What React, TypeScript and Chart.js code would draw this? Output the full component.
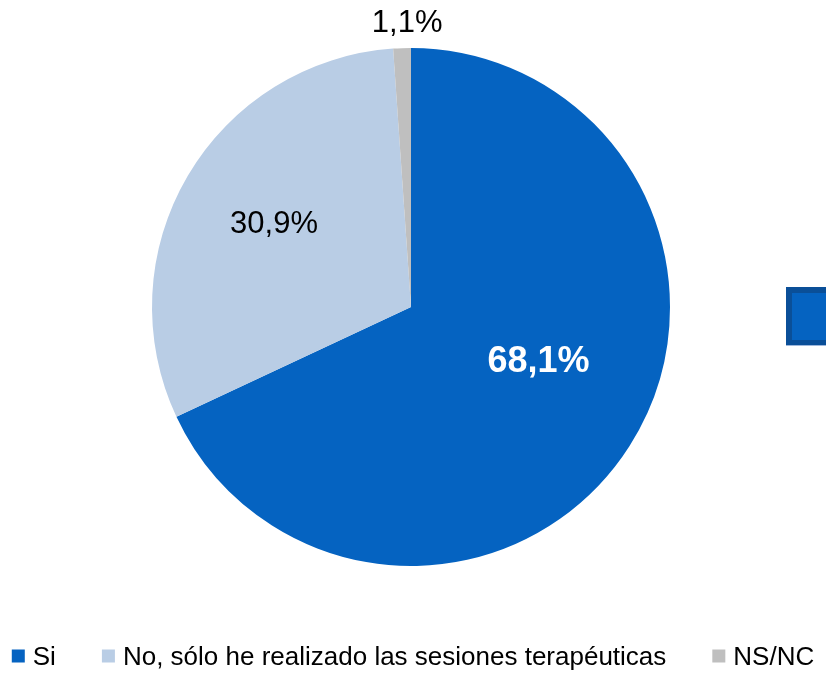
import React, { useEffect, useRef } from "react";
import { Chart, registerables } from "chart.js";

Chart.register(...registerables);

const categories = ["Si", "No, sólo he realizado las sesiones terapéuticas", "NS/NC"];
const values = [68.1, 30.9, 1.1];
const valueLabels = ["68,1%", "30,9%", "1,1%"];
const colors = ["#0563C1", "#B9CDE5", "#BFBFBF"];
const labelColors = ["#FFFFFF", "#000000", "#000000"];
const labelBold = [true, false, false];
const labelSizes = [36, 31, 31];
const labelRadius = [0.532, 0.622, 1.104];
const labelAngleShift = [-10.2, 1.3, 1.2];

const FONT = '"Liberation Sans", Arial, Helvetica, sans-serif';

const labelPlugin = {
  id: "sliceLabels",
  afterDatasetsDraw(chart: any) {
    const ctx = chart.ctx;
    const meta = chart.getDatasetMeta(0);
    meta.data.forEach((arc: any, i: number) => {
      const p = arc.getProps(["x", "y", "startAngle", "endAngle", "outerRadius"], true);
      const mid = (p.startAngle + p.endAngle) / 2 + (labelAngleShift[i] * Math.PI) / 180;
      const r = p.outerRadius * labelRadius[i];
      const cx = p.x + Math.cos(mid) * r;
      const cy = p.y + Math.sin(mid) * r;
      ctx.save();
      ctx.font = `${labelBold[i] ? "bold " : ""}${labelSizes[i]}px ${FONT}`;
      ctx.fillStyle = labelColors[i];
      ctx.textAlign = "center";
      ctx.textBaseline = "alphabetic";
      ctx.fillText(valueLabels[i], cx, cy + labelSizes[i] * 0.716 / 2);
      ctx.restore();
    });
  },
};

const legendPlugin = {
  id: "customLegend",
  afterDraw(chart: any) {
    const ctx = chart.ctx;
    const size = 26;
    const box = 13;
    const gapBoxText = 8;
    const gapItems = 46;
    ctx.save();
    ctx.font = `${size}px ${FONT}`;
    const labels: string[] = chart.data.labels;
    const widths = labels.map((l) => ctx.measureText(l).width);
    const total = widths.reduce((a, w) => a + box + gapBoxText + w, 0) + gapItems * (labels.length - 1);
    let x = (chart.width - total) / 2;
    const cy = 656;
    labels.forEach((l, i) => {
      ctx.fillStyle = colors[i];
      ctx.fillRect(x, cy - box / 2, box, box);
      x += box + gapBoxText;
      ctx.fillStyle = "#000000";
      ctx.textAlign = "left";
      ctx.textBaseline = "alphabetic";
      ctx.fillText(l, x, cy + size * 0.716 / 2);
      x += widths[i] + gapItems;
    });
    ctx.restore();
  },
};

export default function App() {
  const ref = useRef<HTMLCanvasElement | null>(null);
  useEffect(() => {
    document.body.style.margin = "0";
    if (!ref.current) return;
    const chart = new Chart(ref.current, {
      type: "pie",
      data: {
        labels: categories,
        datasets: [
          {
            data: values,
            backgroundColor: colors,
            borderWidth: 0,
          },
        ],
      },
      options: {
        responsive: false,
        animation: false,
        layout: { padding: { top: 48, bottom: 109, left: 152, right: 156 } },
        plugins: {
          legend: { display: false },
          tooltip: { enabled: false },
        },
      },
      plugins: [labelPlugin, legendPlugin],
    });
    return () => chart.destroy();
  }, []);
  return (
    <div style={{ position: "relative", width: 826, height: 675, background: "#fff", overflow: "hidden" }}>
      <canvas ref={ref} width={826} height={675} style={{ display: "block" }} />
      <div
        style={{
          position: "absolute",
          left: 786,
          top: 287,
          width: 40,
          height: 58,
          boxSizing: "border-box",
          background: "#0563C1",
          borderTop: "6px solid #0A4F98",
          borderLeft: "6px solid #0A4F98",
          borderBottom: "5px solid #0A4F98",
          boxShadow: "0 1px 0 #9DB7DC",
        }}
      />
    </div>
  );
}
